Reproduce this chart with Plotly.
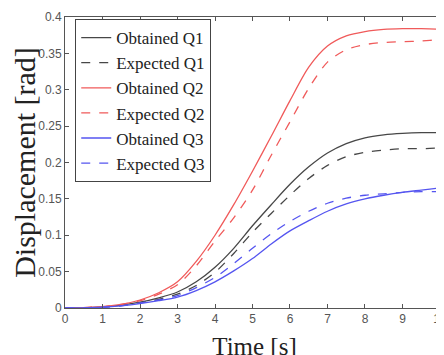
import plotly.graph_objects as go

time_s = [0, 0.5, 1, 1.5, 2, 2.5, 3, 3.5, 4, 4.5, 5, 5.5, 6, 6.5, 7, 7.5, 8, 8.5, 9, 9.5, 10, 10.2]

obtained_q1 = [0, 0.0003, 0.0015, 0.004, 0.008, 0.014, 0.022, 0.036, 0.056, 0.082, 0.113, 0.142, 0.170, 0.194, 0.213, 0.226, 0.234, 0.238, 0.240, 0.241, 0.241, 0.241]
expected_q1 = [0, 0.0003, 0.0013, 0.0035, 0.007, 0.012, 0.019, 0.031, 0.049, 0.075, 0.104, 0.130, 0.155, 0.178, 0.196, 0.208, 0.214, 0.217, 0.219, 0.219, 0.220, 0.220]
obtained_q2 = [0, 0.0005, 0.002, 0.005, 0.011, 0.021, 0.036, 0.064, 0.100, 0.142, 0.188, 0.236, 0.285, 0.331, 0.360, 0.374, 0.380, 0.383, 0.384, 0.384, 0.383, 0.382]
expected_q2 = [0, 0.0005, 0.002, 0.005, 0.010, 0.019, 0.032, 0.058, 0.092, 0.124, 0.162, 0.210, 0.256, 0.302, 0.338, 0.355, 0.362, 0.365, 0.366, 0.367, 0.369, 0.370]
obtained_q3 = [0, 0.0002, 0.001, 0.003, 0.006, 0.010, 0.015, 0.024, 0.036, 0.051, 0.068, 0.088, 0.106, 0.120, 0.133, 0.143, 0.150, 0.155, 0.159, 0.162, 0.165, 0.166]
expected_q3 = [0, 0.0002, 0.001, 0.003, 0.007, 0.011, 0.017, 0.028, 0.042, 0.061, 0.082, 0.102, 0.119, 0.133, 0.144, 0.151, 0.155, 0.157, 0.159, 0.160, 0.160, 0.160]

series = [
    ("Obtained Q1", obtained_q1, "#474747", "solid"),
    ("Expected Q1", expected_q1, "#474747", "dash"),
    ("Obtained Q2", obtained_q2, "#f05a5a", "solid"),
    ("Expected Q2", expected_q2, "#f05a5a", "dash"),
    ("Obtained Q3", obtained_q3, "#5555f0", "solid"),
    ("Expected Q3", expected_q3, "#5555f0", "dash"),
]

x_ticks = list(range(0, 11))
y_ticks = [0, 0.05, 0.1, 0.15, 0.2, 0.25, 0.3, 0.35, 0.4]
y_tick_text = ["0", "0.05", "0.1", "0.15", "0.2", "0.25", "0.3", "0.35", "0.4"]

fig = go.Figure()
for name, vals, color, dash in series:
    fig.add_trace(go.Scatter(x=time_s, y=vals, mode="lines", name=name,
                             line=dict(color=color, width=1.3, dash=dash, shape="spline", smoothing=0.8)))

axis_common = dict(showgrid=False, zeroline=False, showline=True, linecolor="#555555",
                   linewidth=1, ticks="inside", ticklen=4, tickcolor="#555555", automargin=False,
                   ticklabeloverflow="allow",
                   tickfont=dict(family="Liberation Sans, Arial", size=12, color="#555555"))

# page has an 8px body margin, so the figure is placed at (8, 8)
fig.update_layout(
    width=436, height=355,
    margin=dict(l=57, r=0, t=9, b=55, autoexpand=False),
    paper_bgcolor="white", plot_bgcolor="white",
    xaxis=dict(range=[0, 10.107], tickvals=x_ticks, mirror="ticks",
               title=dict(text="Time [s]", font=dict(family="Liberation Serif, Times New Roman", size=25, color="#222222"), standoff=12),
               **axis_common),
    yaxis=dict(range=[0, 0.4], tickvals=y_ticks, ticktext=y_tick_text, mirror=False,
               title=dict(text="Displacement [rad]", font=dict(family="Liberation Serif, Times New Roman", size=30, color="#222222"), standoff=6),
               **axis_common),
    legend=dict(x=0.027, y=0.993, xanchor="left", yanchor="top",
                bgcolor="white", bordercolor="#444444", borderwidth=1,
                font=dict(family="Liberation Serif, Times New Roman", size=17, color="#222222"),
                tracegroupgap=0, itemwidth=30),
    showlegend=True,
)

fig.write_html("out.html")
